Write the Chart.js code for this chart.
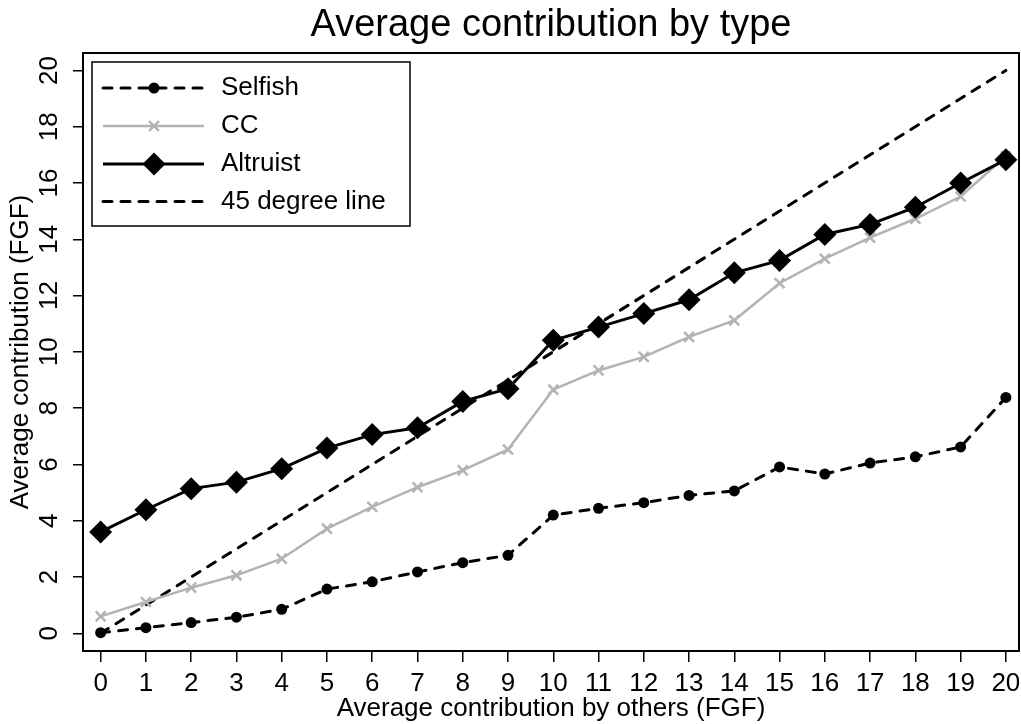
<!DOCTYPE html>
<html>
<head>
<meta charset="utf-8">
<title>Average contribution by type</title>
<script src="https://cdn.jsdelivr.net/npm/chart.js@4.4.1/dist/chart.umd.min.js"></script>
<style>
  html, body { margin: 0; padding: 0; background: #fff; }
  canvas { display: block; }
</style>
</head>
<body>
<canvas id="chart" width="1021" height="724"></canvas>
<script>
// Average contribution by others (x axis, FGF)
const othersLevels = [0, 1, 2, 3, 4, 5, 6, 7, 8, 9, 10, 11, 12, 13, 14, 15, 16, 17, 18, 19, 20];

// Average own contribution per type
const selfishValues = [0.02, 0.2, 0.38, 0.57, 0.85, 1.57, 1.83, 2.18, 2.51, 2.77, 4.2, 4.44, 4.64, 4.9, 5.06, 5.91, 5.66, 6.05, 6.27, 6.62, 8.38];
const ccValues = [0.6, 1.11, 1.62, 2.06, 2.65, 3.72, 4.49, 5.19, 5.79, 6.53, 8.66, 9.34, 9.82, 10.53, 11.12, 12.44, 13.31, 14.06, 14.73, 15.52, 16.95];
const altruistValues = [3.6, 4.39, 5.14, 5.37, 5.85, 6.58, 7.06, 7.3, 8.24, 8.69, 10.41, 10.88, 11.36, 11.85, 12.81, 13.25, 14.17, 14.53, 15.14, 16.0, 16.83];

// 45 degree reference line end points
const diagonalX = [0, 20];
const diagonalY = [0, 20];

// tick labels
const xTickValues = [0, 1, 2, 3, 4, 5, 6, 7, 8, 9, 10, 11, 12, 13, 14, 15, 16, 17, 18, 19, 20];
const yTickValues = [0, 2, 4, 6, 8, 10, 12, 14, 16, 18, 20];

const FONT = "'Liberation Sans', Arial, sans-serif";
const GREY = '#b3b3b3';

const toPoints = (xs, ys) => xs.map((x, i) => ({ x: x, y: ys[i] }));

// box around the plot region
const plotBox = {
  id: 'plotBox',
  afterDatasetsDraw(chart) {
    const { ctx, chartArea: a } = chart;
    ctx.save();
    ctx.strokeStyle = '#000';
    ctx.lineWidth = 2;
    ctx.setLineDash([]);
    ctx.strokeRect(a.left, a.top, a.right - a.left, a.bottom - a.top);
    ctx.restore();
  }
};

// legend drawn inside the plot, top left
const insetLegend = {
  id: 'insetLegend',
  afterDraw(chart) {
    const ctx = chart.ctx;
    const box = { x: 92, y: 62, w: 318, h: 164 };
    const lineX0 = 103, lineX1 = 204, markX = 154, textX = 221;
    const rowY = [88, 126, 164, 201.5];
    ctx.save();
    ctx.fillStyle = '#fff';
    ctx.fillRect(box.x, box.y, box.w, box.h);
    ctx.strokeStyle = '#000';
    ctx.lineWidth = 1.5;
    ctx.setLineDash([]);
    ctx.strokeRect(box.x, box.y, box.w, box.h);

    chart.data.datasets.forEach((ds, i) => {
      const y = rowY[i];
      ctx.save();
      ctx.strokeStyle = ds.borderColor;
      ctx.lineWidth = ds.borderWidth;
      ctx.lineCap = ds.borderCapStyle || 'butt';
      ctx.setLineDash(ds.borderDash || []);
      ctx.beginPath();
      ctx.moveTo(lineX0, y);
      ctx.lineTo(lineX1, y);
      ctx.stroke();
      ctx.restore();

      if (ds.pointRadius > 0) {
        ctx.save();
        ctx.setLineDash([]);
        ctx.fillStyle = ds.pointBackgroundColor;
        ctx.strokeStyle = ds.pointBorderColor;
        ctx.lineWidth = ds.pointBorderWidth;
        Chart.helpers.drawPoint(ctx, {
          pointStyle: ds.pointStyle,
          radius: ds.pointRadius,
          rotation: 0,
          borderWidth: ds.pointBorderWidth
        }, markX, y);
        ctx.restore();
      }

      ctx.fillStyle = '#000';
      ctx.font = '26px ' + FONT;
      ctx.textAlign = 'left';
      ctx.textBaseline = 'middle';
      ctx.fillText(ds.label, textX, y);
    });
    ctx.restore();
  }
};

new Chart(document.getElementById('chart'), {
  type: 'line',
  data: {
    datasets: [
      {
        label: 'Selfish',
        data: toPoints(othersLevels, selfishValues),
        borderColor: '#000',
        borderWidth: 3,
        borderDash: [9, 9],
        borderCapStyle: 'round',
        pointStyle: 'circle',
        pointRadius: 5.5,
        pointBackgroundColor: '#000',
        pointBorderColor: '#000',
        pointBorderWidth: 0,
        order: 2
      },
      {
        label: 'CC',
        data: toPoints(othersLevels, ccValues),
        borderColor: GREY,
        borderWidth: 2.5,
        pointStyle: 'crossRot',
        pointRadius: 7,
        pointBackgroundColor: GREY,
        pointBorderColor: GREY,
        pointBorderWidth: 2.5,
        order: 1
      },
      {
        label: 'Altruist',
        data: toPoints(othersLevels, altruistValues),
        borderColor: '#000',
        borderWidth: 3,
        pointStyle: 'rectRot',
        pointRadius: 11.5,
        pointBackgroundColor: '#000',
        pointBorderColor: '#000',
        pointBorderWidth: 0,
        order: 0
      },
      {
        label: '45 degree line',
        data: toPoints(diagonalX, diagonalY),
        borderColor: '#000',
        borderWidth: 3,
        borderDash: [9, 9],
        borderCapStyle: 'round',
        pointRadius: 0,
        order: 3
      }
    ]
  },
  options: {
    responsive: false,
    devicePixelRatio: 1,
    animation: false,
    layout: { autoPadding: false, padding: { left: 0, right: 2, top: 0, bottom: 0 } },
    elements: { line: { tension: 0 } },
    plugins: {
      legend: { display: false },
      tooltip: { enabled: false },
      title: {
        display: true,
        fullSize: false,
        text: 'Average contribution by type',
        color: '#000',
        font: { family: FONT, size: 38, weight: 'normal' },
        padding: { top: 3, bottom: 4.4 }
      }
    },
    scales: {
      x: {
        type: 'linear',
        min: -0.39,
        max: 20.29,
        afterBuildTicks: s => { s.ticks = xTickValues.map(v => ({ value: v })); },
        afterFit: s => { s.height = 73; s.paddingLeft = 0; s.paddingRight = 0; },
        border: { display: false },
        grid: { drawOnChartArea: false, drawTicks: true, tickLength: 11, color: '#000', lineWidth: 1.5 },
        ticks: {
          autoSkip: false,
          minRotation: 0,
          maxRotation: 0,
          padding: 0,
          color: '#000',
          font: { family: FONT, size: 26, lineHeight: 1.66 },
          callback: v => String(v)
        },
        title: {
          display: true,
          text: 'Average contribution by others (FGF)',
          color: '#000',
          font: { family: FONT, size: 26 },
          padding: { top: 0, bottom: 0 }
        }
      },
      y: {
        type: 'linear',
        min: -0.63,
        max: 20.62,
        afterBuildTicks: s => { s.ticks = yTickValues.map(v => ({ value: v })); },
        afterFit: s => { s.width = 83; s.paddingTop = 0; s.paddingBottom = 0; },
        border: { display: false },
        grid: { drawOnChartArea: false, drawTicks: true, tickLength: 10, color: '#000', lineWidth: 1.5 },
        ticks: {
          autoSkip: false,
          minRotation: 90,
          maxRotation: 90,
          crossAlign: 'center',
          padding: 8.5,
          color: '#000',
          font: { family: FONT, size: 26 },
          callback: v => String(v)
        },
        title: {
          display: true,
          text: 'Average contribution (FGF)',
          color: '#000',
          font: { family: FONT, size: 26 },
          padding: { top: 5, bottom: 0 }
        }
      }
    }
  },
  plugins: [plotBox, insetLegend]
});
</script>
</body>
</html>
